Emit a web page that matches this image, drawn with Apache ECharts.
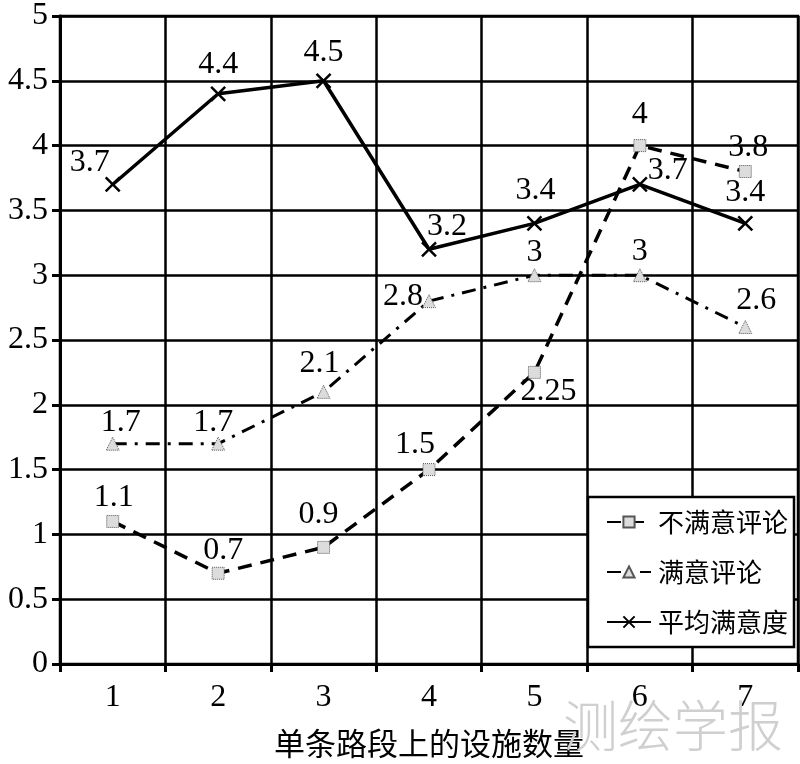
<!DOCTYPE html>
<html>
<head>
<meta charset="utf-8">
<script src="https://cdn.jsdelivr.net/npm/echarts@6/dist/echarts.min.js"></script>
<style>
  html, body { margin: 0; padding: 0; background: #fff; }
  #chart { width: 800px; height: 764px; }
</style>
</head>
<body>
<div id="chart"></div>
<script>
// values
const categories = ["1", "2", "3", "4", "5", "6", "7"];
const unsatisfied = [1.1, 0.7, 0.9, 1.5, 2.25, 4, 3.8];
const satisfied = [1.7, 1.7, 2.1, 2.8, 3, 3, 2.6];
const avgScore = [3.7, 4.4, 4.5, 3.2, 3.4, 3.7, 3.4];
const seriesNames = ["不满意评论", "满意评论", "平均满意度"];
const xName = "单条路段上的设施数量";

const serif = "'Liberation Serif', 'DejaVu Serif', serif";
const cjk = "'Noto Sans CJK SC', sans-serif";

// label nudges per point (style only)
const offUnsat = [[1, 7], [5, 8], [-5, -2], [-14, 5], [14, 50], [0, -1], [3, 7]];
const offSat = [[8, 10], [-5, 10], [-4, 3], [-26, 26], [0, 8], [0, 7], [11, 5]];
const offAvg = [[-23, 12], [0, 4], [0, 5], [18, 11], [1, 1], [28, 20], [0, 3]];

function withLabels(values, offs) {
  return values.map((v, i) => ({ value: v, label: { offset: offs[i] } }));
}

const labelStyle = {
  show: true,
  position: "top",
  fontFamily: serif,
  fontSize: 32,
  color: "#000",
  distance: 8
};

const chart = echarts.init(document.getElementById("chart"));
chart.setOption({
  animation: false,
  backgroundColor: "#fff",
  grid: { left: 60, right: 2, top: 12, bottom: 99, show: true, borderColor: "#000", borderWidth: 2.5 },
  xAxis: {
    type: "category",
    data: categories,
    boundaryGap: true,
    name: xName,
    nameLocation: "middle",
    nameGap: 64,
    nameTextStyle: { fontFamily: cjk, fontSize: 31, color: "#000" },
    axisLine: { lineStyle: { color: "#000", width: 3 } },
    axisTick: { show: true, length: 8, lineStyle: { color: "#000", width: 3 } },
    axisLabel: { fontFamily: serif, fontSize: 32, color: "#000", margin: 18 },
    splitLine: { show: true, lineStyle: { color: "#000", width: 2.5 } }
  },
  yAxis: {
    type: "value",
    min: 0,
    max: 5,
    interval: 0.5,
    axisLine: { show: true, lineStyle: { color: "#000", width: 3 } },
    axisTick: { show: true, length: 8, lineStyle: { color: "#000", width: 3 } },
    axisLabel: { fontFamily: serif, fontSize: 32, color: "#000", margin: 12 },
    splitLine: { show: true, lineStyle: { color: "#000", width: 2.5 } }
  },
  legend: {
    orient: "vertical",
    left: 588,
    top: 497,
    width: 210,
    height: 168,
    padding: [12, 6, 12, 18],
    itemGap: 24,
    itemWidth: 44,
    itemHeight: 14,
    backgroundColor: "#fff",
    borderColor: "#000",
    borderWidth: 2.5,
    textStyle: { fontFamily: cjk, fontSize: 26, color: "#000", padding: [0, 0, 0, 2] },
    data: seriesNames
  },
  series: [
    {
      name: seriesNames[0],
      type: "line",
      data: withLabels(unsatisfied, offUnsat),
      symbol: "rect",
      symbolSize: 12,
      itemStyle: { color: "#dcdcdc", borderColor: "#555", borderWidth: 1, borderType: "dotted" },
      lineStyle: { color: "#000", width: 3.5, type: [14, 9] },
      label: labelStyle,
      z: 3
    },
    {
      name: seriesNames[1],
      type: "line",
      data: withLabels(satisfied, offSat),
      symbol: "triangle",
      symbolSize: 13,
      itemStyle: { color: "#dcdcdc", borderColor: "#555", borderWidth: 1, borderType: "dotted" },
      lineStyle: { color: "#000", width: 3, type: [14, 8, 3, 8] },
      label: labelStyle,
      z: 3
    },
    {
      name: seriesNames[2],
      type: "line",
      data: withLabels(avgScore, offAvg),
      symbol: "path://M0,0L10,10M10,0L0,10",
      symbolSize: 14,
      itemStyle: { color: "none", borderColor: "#000", borderWidth: 2.5 },
      lineStyle: { color: "#000", width: 3.5 },
      label: labelStyle,
      z: 3
    }
  ],
  graphic: [
    {
      type: "text",
      left: 563,
      top: 698,
      style: { text: "测绘学报", fontFamily: cjk, fontSize: 55, fontWeight: 300, fill: "#cfcfcf" },
      z: 10
    }
  ]
});
</script>
</body>
</html>
